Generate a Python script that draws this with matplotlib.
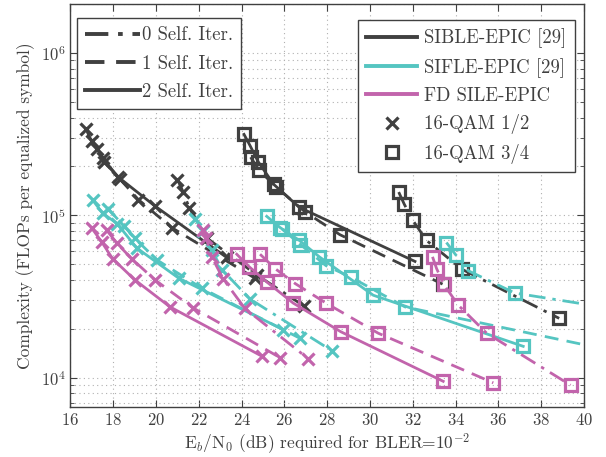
import numpy as np
import matplotlib
matplotlib.use("Agg")
import matplotlib.pyplot as plt
from matplotlib.lines import Line2D

plt.rcParams['font.family'] = 'serif'
plt.rcParams['font.serif'] = ['cmr10']
plt.rcParams['mathtext.fontset'] = 'cm'
plt.rcParams['axes.formatter.use_mathtext'] = True

DARK = '#404040'
TEAL = '#55c5c1'
PINK = '#c264ac'

# ---- SIBLE-EPIC [29] ----
sible_12_it2_x = [16.72, 16.99, 17.25, 17.50, 18.23, 19.95, 23.30]
sible_12_it2_y = [3.41e5, 2.85e5, 2.55e5, 2.25e5, 1.72e5, 1.14e5, 5.5e4]
sible_12_it1_x = [17.58, 18.30, 19.17, 20.73, 24.62]
sible_12_it1_y = [2.13e5, 1.68e5, 1.25e5, 8.4e4, 4.1e4]
sible_12_it0_x = [21.00, 21.27, 21.55, 22.40, 24.70, 26.90]
sible_12_it0_y = [1.66e5, 1.39e5, 1.11e5, 7.2e4, 4.3e4, 2.77e4]

sible_34_it2_x = [24.11, 24.39, 24.78, 25.50, 26.69, 32.10]
sible_34_it2_y = [3.15e5, 2.69e5, 2.13e5, 1.55e5, 1.12e5, 5.2e4]
sible_34_it1_x = [24.42, 24.82, 25.60, 26.96, 28.59, 33.39]
sible_34_it1_y = [2.28e5, 1.89e5, 1.50e5, 1.05e5, 7.6e4, 3.77e4]
sible_34_it0_x = [31.34, 31.60, 31.99, 32.64, 34.30, 38.84]
sible_34_it0_y = [1.39e5, 1.17e5, 9.35e4, 7.0e4, 4.65e4, 2.32e4]

# ---- SIFLE-EPIC [29] ----
sifle_12_it2_x = [17.04, 17.50, 18.18, 19.09, 21.06, 25.94]
sifle_12_it2_y = [1.24e5, 1.03e5, 8.9e4, 6.3e4, 4.1e4, 1.98e4]
sifle_12_it1_x = [17.77, 18.50, 19.01, 20.05, 22.15, 26.72]
sifle_12_it1_y = [1.09e5, 8.6e4, 7.2e4, 5.3e4, 3.55e4, 1.75e4]
sifle_12_it0_x = [21.82, 22.20, 22.60, 23.10, 24.39, 28.20]
sifle_12_it0_y = [9.5e4, 8.0e4, 6.1e4, 4.6e4, 3.05e4, 1.47e4]

sifle_34_it2_x = [25.17, 25.80, 26.70, 27.63, 30.15, 37.16]
sifle_34_it2_y = [9.86e4, 8.4e4, 7.0e4, 5.55e4, 3.22e4, 1.56e4]
sifle_34_it1_x = [25.90, 26.75, 27.94, 29.10, 31.63, 41.50]
sifle_34_it1_y = [8.2e4, 6.6e4, 4.9e4, 4.16e4, 2.73e4, 1.45e4]
sifle_34_it0_x = [33.57, 34.01, 34.60, 36.77, 42.00, 45.00]
sifle_34_it0_y = [6.8e4, 5.7e4, 4.55e4, 3.32e4, 2.58e4, 2.2e4]

# ---- FD SILE-EPIC ----
fdsile_12_it2_x = [16.99, 17.46, 17.97, 19.01, 20.65, 24.93]
fdsile_12_it2_y = [8.36e4, 6.85e4, 5.4e4, 4.0e4, 2.73e4, 1.36e4]
fdsile_12_it1_x = [17.69, 18.16, 18.86, 19.95, 21.71, 25.79]
fdsile_12_it1_y = [8.1e4, 6.75e4, 5.4e4, 4.0e4, 2.7e4, 1.33e4]
fdsile_12_it0_x = [22.18, 22.35, 22.60, 23.14, 24.15, 27.11]
fdsile_12_it0_y = [8.1e4, 7.2e4, 5.55e4, 4.05e4, 2.67e4, 1.31e4]

fdsile_34_it2_x = [23.77, 24.36, 25.17, 26.41, 28.63, 33.42]
fdsile_34_it2_y = [5.76e4, 4.81e4, 3.89e4, 2.88e4, 1.92e4, 9.5e3]
fdsile_34_it1_x = [24.86, 25.56, 26.50, 27.96, 30.38, 35.76]
fdsile_34_it1_y = [5.76e4, 4.7e4, 3.8e4, 2.87e4, 1.88e4, 9.3e3]
fdsile_34_it0_x = [32.92, 33.11, 33.45, 34.12, 35.45, 39.37]
fdsile_34_it0_y = [5.55e4, 4.7e4, 3.75e4, 2.8e4, 1.88e4, 9.0e3]

styles = {0: (0, (6, 2.5, 1.2, 2.5)), 1: (0, (5, 3)), 2: '-'}

series = [
    (sible_12_it0_x, sible_12_it0_y, DARK, 'x', 0),
    (sible_12_it1_x, sible_12_it1_y, DARK, 'x', 1),
    (sible_12_it2_x, sible_12_it2_y, DARK, 'x', 2),
    (sible_34_it0_x, sible_34_it0_y, DARK, 's', 0),
    (sible_34_it1_x, sible_34_it1_y, DARK, 's', 1),
    (sible_34_it2_x, sible_34_it2_y, DARK, 's', 2),
    (sifle_12_it0_x, sifle_12_it0_y, TEAL, 'x', 0),
    (sifle_12_it1_x, sifle_12_it1_y, TEAL, 'x', 1),
    (sifle_12_it2_x, sifle_12_it2_y, TEAL, 'x', 2),
    (sifle_34_it0_x, sifle_34_it0_y, TEAL, 's', 0),
    (sifle_34_it1_x, sifle_34_it1_y, TEAL, 's', 1),
    (sifle_34_it2_x, sifle_34_it2_y, TEAL, 's', 2),
    (fdsile_12_it0_x, fdsile_12_it0_y, PINK, 'x', 0),
    (fdsile_12_it1_x, fdsile_12_it1_y, PINK, 'x', 1),
    (fdsile_12_it2_x, fdsile_12_it2_y, PINK, 'x', 2),
    (fdsile_34_it0_x, fdsile_34_it0_y, PINK, 's', 0),
    (fdsile_34_it1_x, fdsile_34_it1_y, PINK, 's', 1),
    (fdsile_34_it2_x, fdsile_34_it2_y, PINK, 's', 2),
]

fig = plt.figure(figsize=(6.06, 4.57), dpi=100)
ax = fig.add_axes([0.1163, 0.1094, 0.8474, 0.8818])

for x, y, c, m, it in series:
    ms = 8.5 if m == 'x' else 9
    ax.plot(x, y, color=c, linestyle=styles[it], linewidth=2.0,
            marker=m, markersize=ms, markeredgewidth=2.3,
            markerfacecolor='none', markeredgecolor=c)

ax.set_yscale('log')
ax.set_xlim(16, 40)
ax.set_ylim(6.6e3, 2e6)
ax.set_xticks(np.arange(16, 41, 2))
ax.grid(True, which='major', linestyle=(0, (1, 3)), color='#b0b0b0', linewidth=0.8)
ax.grid(True, which='minor', axis='y', linestyle=(0, (1, 3)), color='#b0b0b0', linewidth=0.8)
ax.tick_params(which='both', direction='in', top=True, right=True, labelsize=12, colors='#404040')
ax.tick_params(which='major', length=5)
ax.tick_params(which='minor', length=3)
for s in ax.spines.values():
    s.set_color('#404040')
    s.set_linewidth(1.0)

ax.set_xlabel(r'E$_b$/N$_0$ (dB) required for BLER=$10^{-2}$', fontsize=12.5, color='#404040', labelpad=2)
ax.set_ylabel('Complexity (FLOPs per equalized symbol)', fontsize=12.5, color='#404040', labelpad=4)

h1 = [Line2D([], [], color=DARK, linestyle=styles[i], linewidth=2.8) for i in (0, 1, 2)]
leg1 = ax.legend(h1, ['0 Self. Iter.', '1 Self. Iter.', '2 Self. Iter.'], loc='upper left',
                 bbox_to_anchor=(0.0127, 0.965), fontsize=13.5, fancybox=False, framealpha=1,
                 edgecolor='#404040', handlelength=2.9, handletextpad=0.1, borderpad=0.45,
                 labelspacing=0.55, borderaxespad=0)
leg1.get_frame().set_linewidth(1.0)
for t in leg1.get_texts():
    t.set_color('#404040')
ax.add_artist(leg1)

h2 = [Line2D([], [], color=DARK, linewidth=2.8),
      Line2D([], [], color=TEAL, linewidth=2.8),
      Line2D([], [], color=PINK, linewidth=2.8),
      Line2D([], [], color=DARK, linestyle='none', marker='x', markersize=8.5, markeredgewidth=2.3),
      Line2D([], [], color=DARK, linestyle='none', marker='s', markersize=9, markeredgewidth=2.3,
             markerfacecolor='none')]
leg2 = ax.legend(h2, ['SIBLE-EPIC [29]', 'SIFLE-EPIC [29]', 'FD SILE-EPIC', '16-QAM 1/2', '16-QAM 3/4'],
                 loc='upper right', bbox_to_anchor=(0.9825, 0.960), fontsize=13.5, fancybox=False,
                 framealpha=1, edgecolor='#404040', handlelength=2.7, handletextpad=0.4,
                 borderpad=0.45, labelspacing=0.5, borderaxespad=0)
leg2.get_frame().set_linewidth(1.0)
for t in leg2.get_texts():
    t.set_color('#404040')

fig.savefig('out.png', dpi=100)
